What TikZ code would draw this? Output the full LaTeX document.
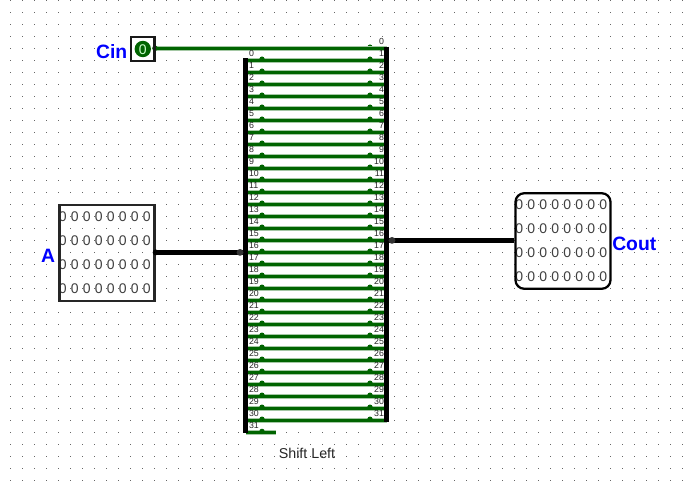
\documentclass[tikz,border=0pt]{standalone}
\usepackage{fontspec}
\setmainfont{Liberation Sans}
\definecolor{wiregreen}{RGB}{0,100,0}
\definecolor{wirehalo}{RGB}{165,200,165}
\definecolor{labelblue}{RGB}{0,0,255}
\tikzset{
  x=0.75pt,y=-0.75pt,
  griddot/.style={fill=black!60,draw=none},
  box/.style={draw=black!90,line width=1.7pt,fill=none},
  pin/.style={font=\fontsize{10.5}{10.5}\selectfont,text=black!75,inner sep=0pt},
  idx/.style={font=\fontsize{6.6}{7}\selectfont,text=black!85,inner sep=0pt},
  lab/.style={font=\bfseries\fontsize{14.5}{15}\selectfont,text=labelblue,inner sep=0pt},
  wirehalostyle/.style={draw=wirehalo,line width=3.5pt},
  thinwire/.style={draw=wiregreen,line width=2.4pt},
  busbar/.style={draw=black,line width=4.1pt},
  buswire/.style={draw=black,line width=3.8pt},
  joint/.style={fill=wiregreen,draw=none},
}
\begin{document}
\begin{tikzpicture}
\useasboundingbox (0,0) rectangle (683,492);
\fill[white] (0,0) rectangle (683,492);
\foreach \gx in {1,...,57}{\foreach \gy in {0,...,40}{
  \fill[griddot] ({12*\gx-2},{12*\gy}) rectangle +(1,1);
}}
% splitter wires
\foreach \i in {1,...,31}{
  \coordinate (L\i) at (245.5,{48.2+12*\i});
  \coordinate (R\i) at (386.5,{48.2+12*\i});
}
\coordinate (Rzero) at (386.5,48.2);
\coordinate (Ltail) at (245.5,432.3);
\coordinate (Lend) at (276,432.3);
\foreach \i in {1,...,31}{
  \draw[wirehalostyle] (L\i) -- (R\i);
  \draw[thinwire] (L\i) -- (R\i);
  \fill[joint] (262,{47.2+12*\i}) circle (2.7);
  \fill[joint] (370,{47.2+12*\i}) circle (2.7);
}
\draw[wirehalostyle] (Ltail) -- (Lend);
\draw[thinwire] (Ltail) -- (Lend);
\fill[joint] (262,431.4) circle (2.7);
\fill[joint] (370,47.2) circle (2.7);
% Cin pin
\node[inner sep=0pt] (cinpin) at (155,48.2) {};
\draw[wirehalostyle] (cinpin) -- (Rzero);
\draw[thinwire] (cinpin) -- (Rzero);
\fill[joint] (155,48.2) circle (2.8);
\node[box,minimum width=23.5*0.75pt,minimum height=23.5*0.75pt,inner sep=0pt] (cinbox) at (142.8,49) {};
\fill[wiregreen] (142.8,49) circle (8.2);
\node[font=\fontsize{10.5}{10.5}\selectfont,text=green!20!white,inner sep=0pt] (cinval) at (142.8,49.3) {0};
\node[lab,anchor=east] (cinlabel) at (127.5,51.5) {Cin};
% input box
\foreach \r [count=\j from 0] in {216.7,240.7,264.7,288.7}{
  \foreach \c in {0,...,7}{
    \node[pin] (a\j\c) at ({62.7+12*\c},\r) {0};
  }
}
\node[box,draw=black!85,minimum width=95*0.75pt,minimum height=95.5*0.75pt,inner sep=0pt] (abox) at (107,253) {};
\node[lab,anchor=center] (alabel) at (48,256) {A};
% output box
\foreach \r [count=\j from 0] in {204.3,228.3,252.3,276.3}{
  \foreach \c in {0,...,7}{
    \node[pin] (o\j\c) at ({519.3+12*\c},\r) {0};
  }
}
\node[box,draw=black,rounded corners=6.5pt,minimum width=95*0.75pt,minimum height=95.5*0.75pt,inner sep=0pt] (obox) at (563,241) {};
\node[lab,anchor=west] (olabel) at (612,244) {Cout};
% splitter bars
\coordinate (LT) at (245.4,58.3);
\coordinate (LB) at (245.4,433);
\coordinate (RT) at (386.6,46.7);
\coordinate (RB) at (386.6,421.5);
\draw[busbar] (LT) -- (LB);
\draw[busbar] (RT) -- (RB);
% bus wires
\coordinate (Ain) at (245,252.4);
\coordinate (Coutin) at (389,240.4);
\draw[buswire] (abox.east |- Ain) -- (Ain);
\draw[buswire] (Coutin) -- (obox.west |- Coutin);
\fill[black] (abox.east |- Ain) circle (3);
\fill[black!80] (392,240.4) circle (3.4);
\fill[black!80] (240,252.4) circle (3.4);
% index labels
\foreach \i in {0,...,31}{
  \node[idx,anchor=west] (li\i) at (248.8,{53.3+12*\i}) {\i};
  \node[idx,anchor=east] (ri\i) at (384.3,{41.3+12*\i}) {\i};
}
\node[font=\fontsize{10.7}{11}\selectfont,text=black!85,inner sep=0pt] (title) at (307,453) {Shift Left};
\end{tikzpicture}
\end{document}
